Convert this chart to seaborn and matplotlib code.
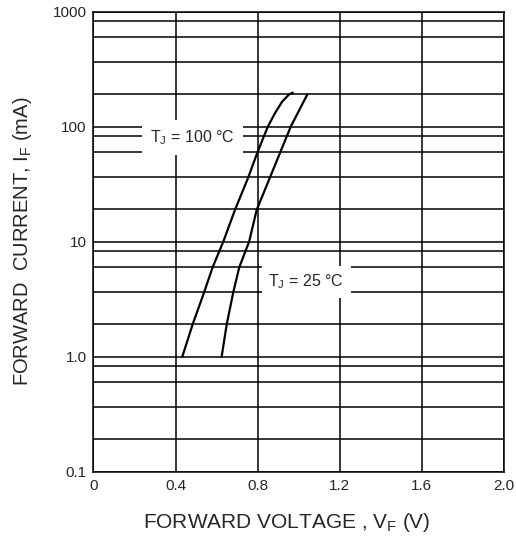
import numpy as np
import pandas as pd
import matplotlib
matplotlib.use('Agg')
import matplotlib.pyplot as plt
from matplotlib.ticker import FixedLocator, NullFormatter
import seaborn as sns

# Data
vf_100c = [0.433, 0.484, 0.540, 0.581, 0.633, 0.690, 0.755, 0.799, 0.850, 0.885, 0.920, 0.954, 0.972]
if_100c = [1.0, 1.92, 3.65, 5.99, 10.0, 18.9, 36.3, 59.4, 100.0, 131.0, 165.0, 191.0, 198.0]
vf_25c = [0.625, 0.650, 0.682, 0.711, 0.759, 0.796, 0.861, 0.910, 0.962, 1.043]
if_25c = [1.0, 1.92, 3.65, 5.99, 10.0, 18.9, 36.3, 59.4, 100.0, 191.0]

x_ticks = [0, 0.4, 0.8, 1.2, 1.6, 2.0]
x_labels = ['0', '0.4', '0.8', '1.2', '1.6', '2.0']
y_ticks = [0.1, 1, 10, 100, 1000]
y_labels = ['0.1', '1.0', '10', '100', '1000']
# intermediate grid lines within each decade (as drawn in the datasheet)
minor_mult = [1.92, 3.65, 5.99, 8.3]

sns.set_style('white')
plt.rcParams['font.family'] = ['Liberation Sans', 'DejaVu Sans']
plt.rcParams['mathtext.default'] = 'regular'

df = pd.concat([
    pd.DataFrame({'VF': vf_100c, 'IF': if_100c, 'Tj': '100'}),
    pd.DataFrame({'VF': vf_25c, 'IF': if_25c, 'Tj': '25'}),
])

fig = plt.figure(figsize=(5.16, 5.38), dpi=100)
ax = fig.add_axes([0.1812, 0.1232, 0.7946, 0.855])

sns.lineplot(data=df, x='VF', y='IF', units='Tj', estimator=None,
             color='black', linewidth=1.6, ax=ax, zorder=3)

ax.set_yscale('log')
ax.set_xlim(0, 2.0)
ax.set_ylim(0.1, 1000)
ax.set_xticks(x_ticks)
ax.set_xticklabels(x_labels)
ax.set_yticks(y_ticks)
ax.set_yticklabels(y_labels)
minors = [d * m for d in y_ticks[:-1] for m in minor_mult]
ax.yaxis.set_minor_locator(FixedLocator(minors))
ax.yaxis.set_minor_formatter(NullFormatter())
ax.tick_params(axis='both', which='both', length=0, labelsize=11, pad=5)

ax.set_axisbelow(True)
ax.grid(True, which='major', color='black', linewidth=1.1)
ax.grid(True, which='minor', axis='y', color='black', linewidth=1.1)
for s in ax.spines.values():
    s.set_color('black')
    s.set_linewidth(1.1)

ax.set_xlabel('FORWARD VOLTAGE , V$_F$ (V)', fontsize=15)
ax.xaxis.set_label_coords(0.472, -0.085)
ax.set_ylabel('FORWARD  CURRENT, I$_F$ (mA)', fontsize=14.5, labelpad=13)

ax.text(0.483, 81, 'T$_J$ = 100 °C', fontsize=11.5, ha='center', va='center',
        bbox=dict(facecolor='white', edgecolor='none', boxstyle='square,pad=0.5'),
        zorder=4)
ax.text(1.037, 4.5, 'T$_J$ = 25 °C', fontsize=11.5, ha='center', va='center',
        bbox=dict(facecolor='white', edgecolor='none', boxstyle='square,pad=0.42'),
        zorder=4)

plt.savefig('out.png', dpi=100)
plt.close()
